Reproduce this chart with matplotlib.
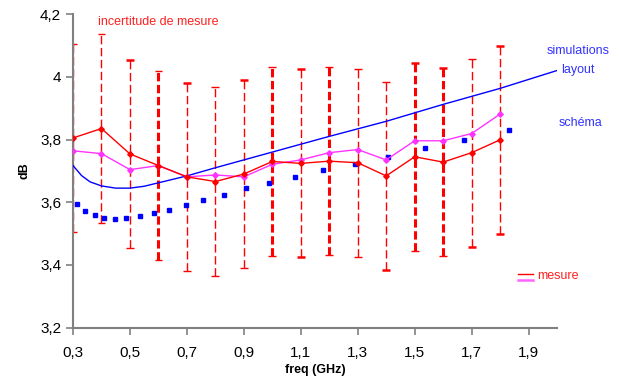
import numpy as np
import matplotlib.pyplot as plt

plt.rcParams['font.family'] = ['Liberation Sans', 'DejaVu Sans']
plt.rcParams['lines.scale_dashes'] = False

# mesure (red) and second mesure (magenta), 0.3 .. 1.8 GHz
freq = [0.3, 0.4, 0.5, 0.6, 0.7, 0.8, 0.9, 1.0, 1.1, 1.2, 1.3, 1.4, 1.5, 1.6, 1.7, 1.8]
mesure = [3.805, 3.835, 3.754, 3.717, 3.681, 3.666, 3.690, 3.730, 3.724,
          3.731, 3.726, 3.684, 3.745, 3.728, 3.758, 3.799]
mesure2 = [3.764, 3.755, 3.704, 3.717, 3.681, 3.687, 3.681, 3.721, 3.735,
           3.758, 3.768, 3.735, 3.796, 3.796, 3.819, 3.881]
incertitude = [0.3] * len(freq)

# simulation layout (blue line)
freq_layout = [0.3, 0.33, 0.36, 0.4, 0.45, 0.5, 0.55, 0.6, 0.7, 0.8, 0.9, 1.0,
               1.2, 1.4, 1.6, 1.8, 2.0]
layout = [3.717, 3.685, 3.665, 3.652, 3.645, 3.645, 3.651, 3.662, 3.684, 3.710,
          3.735, 3.760, 3.810, 3.858, 3.912, 3.963, 4.020]

# simulation schema (blue squares)
freq_schema = [0.313, 0.342, 0.376, 0.41, 0.446, 0.486, 0.535, 0.583, 0.636, 0.696,
               0.757, 0.829, 0.906, 0.989, 1.081, 1.177, 1.289, 1.408, 1.535,
               1.675, 1.832]
schema = [3.594, 3.572, 3.559, 3.550, 3.547, 3.550, 3.557, 3.566, 3.576, 3.590,
          3.607, 3.624, 3.645, 3.662, 3.682, 3.702, 3.722, 3.745, 3.774,
          3.800, 3.831]

# which error bars are drawn heavy in the original
bar_lw = [1, 1, 1, 2.2, 1, 1, 1, 2.2, 1, 2.2, 1, 1, 2.2, 2.2, 1, 1]
top_cap_lw = [1, 1, 1.8, 1, 1.8, 1, 1.8, 1, 1.8, 1, 1, 1, 1.8, 1.8, 1, 1.8]
bot_cap_lw = [1, 1, 1, 1, 1, 1, 1, 1, 1.8, 1, 1, 1.8, 1, 1, 1.8, 1.8]

xticks = [0.3, 0.5, 0.7, 0.9, 1.1, 1.3, 1.5, 1.7, 1.9]
yticks = [3.2, 3.4, 3.6, 3.8, 4.0, 4.2]


def fmt(v):
    return f'{v:g}'.replace('.', ',')


fig = plt.figure(figsize=(6.22, 3.80), dpi=100)
ax = fig.add_axes([0.1174, 0.1376, 0.7781, 0.8254])

f = np.array(freq)
m = np.array(mesure)
e = np.array(incertitude)

ax.vlines(f, m - e, m + e, colors='#ff0000', linewidths=bar_lw,
          linestyles=(0, (6, 2.6)), zorder=2)
ax.scatter(f, m + e, marker='_', s=32, c='#ff0000', linewidths=top_cap_lw, zorder=2)
ax.scatter(f, m - e, marker='_', s=32, c='#ff0000', linewidths=bot_cap_lw, zorder=2)

ax.plot(freq_layout, layout, color='#0000ff', lw=1, zorder=3)
ax.plot(freq_schema, schema, ls='none', marker='s', ms=3.2, color='#0000ff', zorder=3)
ax.plot(freq, mesure2, color='#ff33ff', lw=1, marker='D', ms=2.8, zorder=4)
ax.plot(freq, mesure, color='#ff0000', lw=1, marker='D', ms=2.8, zorder=5)

ax.set_xlim(0.3, 2.0)
ax.set_ylim(3.2, 4.2)
ax.set_xticks(xticks)
ax.set_xticklabels([fmt(v) for v in xticks])
ax.set_yticks(yticks)
ax.set_yticklabels([fmt(v) for v in yticks])
ax.tick_params(labelsize=11, colors='#808080', labelcolor='black', length=5, width=1.2)
ax.tick_params(axis='x', pad=8)

for s in ['top', 'right']:
    ax.spines[s].set_visible(False)
for s in ['left', 'bottom']:
    ax.spines[s].set_color('#808080')
    ax.spines[s].set_linewidth(1.5)

ax.set_xlabel('freq (GHz)', fontsize=9, fontweight='bold', labelpad=3)
ax.set_ylabel('dB', fontsize=9, fontweight='bold', labelpad=7)

fig.text(98 / 622, 1 - 22 / 380, 'incertitude de mesure', color='#ff2020',
         fontsize=9, va='center', ha='left')
fig.text(578 / 622, 1 - 51 / 380, 'simulations', color='#3333ff', fontsize=9,
         va='center', ha='center')
fig.text(578 / 622, 1 - 70 / 380, 'layout', color='#3333ff', fontsize=9,
         va='center', ha='center')
fig.text(581 / 622, 1 - 123 / 380, 'schéma', color='#3333ff', fontsize=9,
         va='center', ha='center')
fig.text(537 / 622, 1 - 276 / 380, 'mesure', color='#ff2020', fontsize=9,
         va='center', ha='left')
fig.add_artist(plt.Line2D([518 / 622, 533 / 622], [1 - 274 / 380] * 2,
                          color='#ff0000', lw=1))
fig.add_artist(plt.Line2D([518 / 622, 533 / 622], [1 - 280 / 380] * 2,
                          color='#ff66ff', lw=1.8))

fig.savefig('out.png', dpi=100)
